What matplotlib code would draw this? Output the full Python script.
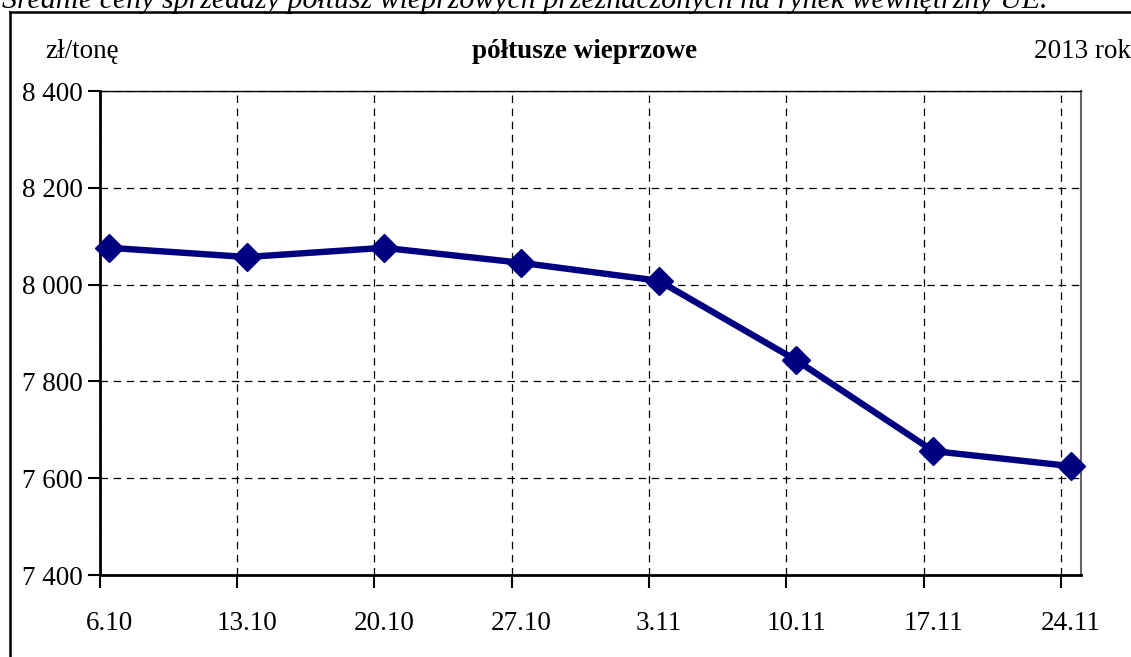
import matplotlib
matplotlib.use("Agg")
import matplotlib.pyplot as plt
from matplotlib.ticker import FixedLocator, FuncFormatter
from matplotlib.lines import Line2D

# ---- data ----
categories = ["6.10", "13.10", "20.10", "27.10", "3.11", "10.11", "17.11", "24.11"]
prices = [8076, 8057, 8076, 8045, 8008, 7844, 7656, 7625]
y_ticks = [7400, 7600, 7800, 8000, 8200, 8400]

title_text = "Średnie ceny sprzedaży półtusz wieprzowych przeznaczonych na rynek wewnętrzny UE."
unit_text = "zł/tonę"
chart_title = "półtusze wieprzowe"
year_text = "2013 rok"

W, H = 1131, 657
fig = plt.figure(figsize=(W / 100, H / 100), dpi=100)
fig.patch.set_facecolor("white")

serif = ["Liberation Serif", "DejaVu Serif"]
fs = 19.5

left, right = 99.5 / W, 1081 / W
top, bottom = 1 - 91 / H, 1 - 575 / H
ax = fig.add_axes([left, bottom, right - left, top - bottom])

# positions: weekly, points half a day after the weekly gridline
day_step = 7.0
offset = 0.5
xg = [i * day_step for i in range(len(categories))]
xp = [x + offset for x in xg]

ax.plot(xp, prices, color="#000080", lw=4.6, marker="D", markersize=14,
        markerfacecolor="#000080", markeredgecolor="#000080", zorder=5,
        solid_joinstyle="miter", clip_on=False)

ax.set_xlim(0, 7.146 * day_step)
ax.set_ylim(y_ticks[0], y_ticks[-1])

# major ticks (grid + tick marks), minor ticks (labels)
ax.xaxis.set_major_locator(FixedLocator(xg))
ax.xaxis.set_minor_locator(FixedLocator(xp))
ax.set_xticklabels([""] * len(xg))
ax.set_xticklabels(categories, minor=True)
ax.tick_params(axis="x", which="major", direction="out", length=9, width=1.5, color="black")
ax.tick_params(axis="x", which="minor", length=0, pad=26, labelsize=fs)

ax.yaxis.set_major_locator(FixedLocator(y_ticks))
ax.yaxis.set_major_formatter(FuncFormatter(lambda v, p: f"{int(v):,}".replace(",", " ")))
ax.tick_params(axis="y", direction="out", length=9, width=1.5, color="black", pad=3, labelsize=fs)

for lbl in ax.get_xticklabels(minor=True) + ax.get_yticklabels():
    lbl.set_fontfamily(serif)

ax.grid(True, which="major", axis="both", color="black", linestyle=(0, (6, 4.5)), linewidth=0.9)
ax.set_axisbelow(True)

ax.spines["left"].set_linewidth(2.0)
ax.spines["bottom"].set_linewidth(2.0)
ax.spines["top"].set_linewidth(1.0)
ax.spines["right"].set_linewidth(1.5)
ax.spines["right"].set_color("#666666")

# texts
fig.text(45 / W, 1 - 52 / H, unit_text, fontsize=fs, family=serif, ha="left", va="center")
fig.text(585 / W, 1 - 52 / H, chart_title, fontsize=fs, family=serif, fontweight="bold",
         ha="center", va="center")
fig.text(1131 / W, 1 - 52 / H, year_text, fontsize=fs, family=serif, ha="right", va="center")

fig.text(2 / W, 1 - 8 / H, title_text, fontsize=21.5, family=serif, style="italic",
         ha="left", va="baseline")

# outer frame
fig.add_artist(Line2D([10 / W, 10 / W], [0, 1 - 12 / H], transform=fig.transFigure,
                      color="black", lw=1.8))
fig.add_artist(Line2D([10 / W, 1], [1 - 12 / H, 1 - 12 / H], transform=fig.transFigure,
                      color="black", lw=1.8))

fig.savefig("out.png", dpi=100, facecolor="white")
